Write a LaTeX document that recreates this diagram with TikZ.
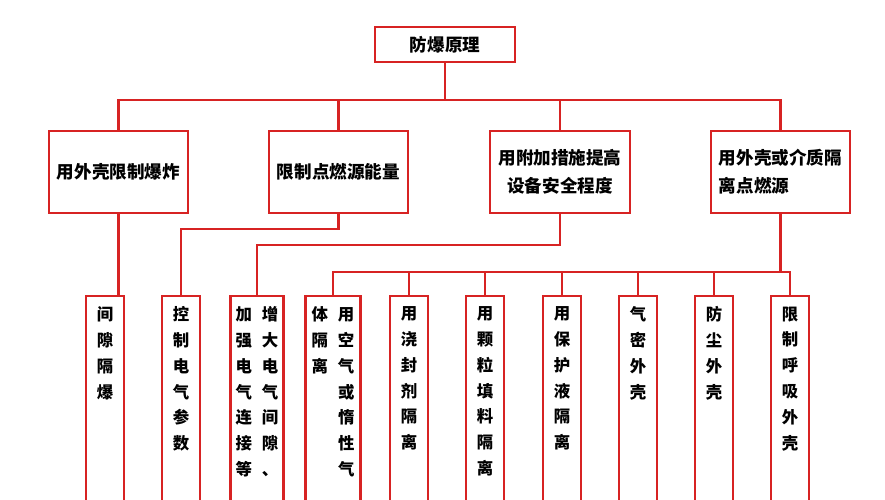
\documentclass[tikz,border=0pt]{standalone}
\usepackage{fontspec}
\newfontfamily\cjk{Noto Sans CJK SC}
\usetikzlibrary{positioning}
\definecolor{linered}{RGB}{215,35,35}
\tikzset{
  box/.style={rectangle,draw=linered,line width=2pt,inner sep=2pt,font=\cjk\bfseries\fontsize{15pt}{24pt}\selectfont},
  leaf/.style={box,anchor=north,inner sep=0pt,font=\cjk\bfseries\fontsize{14pt}{22pt}\selectfont},
  link/.style={draw=linered,line width=2pt}
}
\newcommand{\col}[2]{\parbox[t][7.2cm][t]{#1}{\centering\vspace{9pt}#2}}
\begin{document}
\begin{tikzpicture}[x=0.03cm,y=-0.03cm]
\useasboundingbox (0,0) rectangle (885,500);
\clip (0,0) rectangle (885,500);
\path (445,44.5) node[box,minimum width=4.2cm,minimum height=1.05cm] (root) {防爆原理};

\path (118.5,172) node[box,minimum width=4.17cm,minimum height=2.46cm] (a1) {用外壳限制爆炸};
\path (338.5,172) node[box,minimum width=4.17cm,minimum height=2.46cm] (a2) {限制点燃源能量};
\path (560,172) node[box,minimum width=4.2cm,minimum height=2.46cm,align=center] (a3) {用附加措施提高\\设备安全程度};
\path (780.5,172) node[box,minimum width=4.17cm,minimum height=2.46cm,align=left] (a4) {用外壳或介质隔\\离点燃源};

\path (105,295) node[leaf] (b1) {\col{1.14cm}{间\\隙\\隔\\爆}};
\path (181,295) node[leaf] (b2) {\col{1.14cm}{控\\制\\电\\气\\参\\数}};
\path (257,295) node[leaf] (b3) {\col{1.6cm}{加\hspace{0.3cm}增\\强\hspace{0.3cm}大\\电\hspace{0.3cm}电\\气\hspace{0.3cm}气\\连\hspace{0.3cm}间\\接\hspace{0.3cm}隙\\等\hspace{0.3cm}、}};
\path (333,295) node[leaf] (c1) {\col{1.65cm}{体\hspace{0.3cm}用\\隔\hspace{0.3cm}空\\离\hspace{0.3cm}气\\\phantom{体}\hspace{0.3cm}或\\\phantom{体}\hspace{0.3cm}惰\\\phantom{体}\hspace{0.3cm}性\\\phantom{体}\hspace{0.3cm}气}};
\path (409,295) node[leaf] (c2) {\col{1.14cm}{用\\浇\\封\\剂\\隔\\离}};
\path (485,295) node[leaf] (c3) {\col{1.14cm}{用\\颗\\粒\\填\\料\\隔\\离}};
\path (562,295) node[leaf] (c4) {\col{1.14cm}{用\\保\\护\\液\\隔\\离}};
\path (638,295) node[leaf] (c5) {\col{1.14cm}{气\\密\\外\\壳}};
\path (714,295) node[leaf] (c6) {\col{1.14cm}{防\\尘\\外\\壳}};
\path (790,295) node[leaf] (c7) {\col{1.14cm}{限\\制\\呼\\吸\\外\\壳}};

% connectors
\coordinate (bus) at (445,100);
\coordinate (j2) at (181,229);
\coordinate (j3) at (257,245);
\coordinate (j4) at (790,272);
\draw[link] (root) -- (bus);
\draw[link] (a1) |- (bus) -| (a4);
\draw[link] (a2) -- (a2|-bus);
\draw[link] (a3) -- (a3|-bus);
\draw[link] (a1) -- (a1|-b1.north);
\draw[link] (a2) |- (j2) -- (b2);
\draw[link] (a3) |- (j3) -- (b3);
\draw[link] (a4) -- (a4|-j4);
\draw[link] (c1) |- (j4) -- (c7);
\foreach \n in {c2,c3,c4,c5,c6}
  \draw[link] (\n) -- (\n|-j4);
\end{tikzpicture}
\end{document}
